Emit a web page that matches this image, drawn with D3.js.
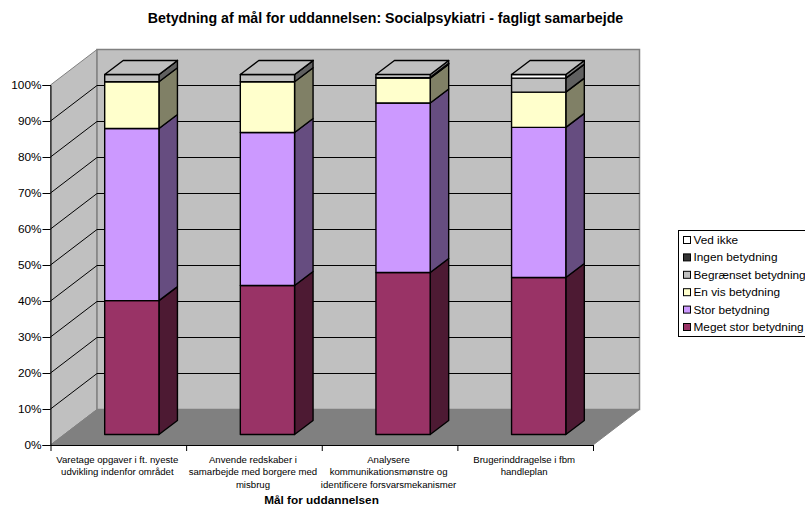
<!DOCTYPE html>
<html>
<head>
<meta charset="utf-8">
<script src="https://cdn.jsdelivr.net/npm/d3@7"></script>
<style>
  html, body { margin: 0; padding: 0; background: #fff; overflow: hidden; }
  text { font-family: "Liberation Sans", Arial, sans-serif; fill: #000; }
</style>
</head>
<body>
<div id="chart"></div>
<script>
// Chart values (percent of answers)
var categories = [
  ["Varetage opgaver i ft. nyeste", "udvikling indenfor området"],
  ["Anvende redskaber i", "samarbejde med borgere med", "misbrug"],
  ["Analysere", "kommunikationsmønstre og", "identificere forsvarsmekanismer"],
  ["Brugerinddragelse i fbm", "handleplan"]
];
var seriesNames = ["Meget stor betydning", "Stor betydning", "En vis betydning", "Begrænset betydning", "Ingen betydning", "Ved ikke"];
var seriesColors = ["#993366", "#cc99ff", "#ffffcc", "#c0c0c0", "#333333", "#ffffff"];
var megetStor = [37.2, 41.4, 45.0, 43.6];
var stor = [47.8, 42.5, 47.1, 41.7];
var enVis = [13.0, 14.1, 6.9, 9.8];
var begraenset = [2.0, 2.0, 0.2, 3.9];
var ingen = [0, 0, 0, 0];
var vedIkke = [0, 0, 0.8, 1.0];
var yTicks = [0, 10, 20, 30, 40, 50, 60, 70, 80, 90, 100];

var width = 805, height = 506;

// Front plane of the 3D box and the depth offsets
var plot = { left: 50.5, right: 593, top: 85, bottom: 445 };
var wallDepth = { x: 46.5, y: -35.5 };
var barShift = { x: 13.5, y: -10.5 };
var barDepth = { x: 18.5, y: -14 };

var svg = d3.select("#chart")
  .append("svg")
  .attr("width", width)
  .attr("height", height)
  .style("display", "block");

var y = d3.scaleLinear().domain([0, 100]).range([plot.bottom, plot.top]);
var xEdge = d3.scaleLinear().domain([0, categories.length]).range([plot.left, plot.right]);
var x = d3.scaleBand()
  .domain(d3.range(categories.length))
  .range([plot.left, plot.right])
  .paddingInner(0.6)
  .paddingOuter(0.3);

function points(list) {
  return list.map(function (p) { return p.join(","); }).join(" ");
}

// half brightness for the side faces
function shade(c) {
  var r = d3.rgb(c);
  return d3.rgb(r.r * 0.5, r.g * 0.5, r.b * 0.5).formatHex();
}

// Walls and floor
var wx = wallDepth.x, wy = wallDepth.y;
svg.append("polygon")
  .attr("points", points([[plot.left, y(100)], [plot.left + wx, y(100) + wy], [plot.left + wx, y(0) + wy], [plot.left, y(0)]]))
  .attr("fill", "#c0c0c0").attr("stroke", "#808080");
svg.append("polygon")
  .attr("points", points([[plot.left + wx, y(100) + wy], [plot.right + wx, y(100) + wy], [plot.right + wx, y(0) + wy], [plot.left + wx, y(0) + wy]]))
  .attr("fill", "#c0c0c0").attr("stroke", "#808080").attr("stroke-width", 1.5);
svg.append("polygon")
  .attr("points", points([[plot.left, y(0)], [plot.left + wx, y(0) + wy], [plot.right + wx, y(0) + wy], [plot.right, y(0)]]))
  .attr("fill", "#808080").attr("stroke", "#808080");

// Gridlines on the left and back walls
var grid = svg.append("g").attr("fill", "none").attr("stroke", "#000").attr("stroke-width", 1);
yTicks.filter(function (t) { return t > 0 && t < 100; }).forEach(function (t) {
  grid.append("polyline").attr("points", points([
    [plot.left, y(t)], [plot.left + wx, y(t) + wy], [plot.right + wx, y(t) + wy]
  ]));
});

// Stacked bars
var rows = categories.map(function (c, i) {
  return {
    i: i,
    "Meget stor betydning": megetStor[i],
    "Stor betydning": stor[i],
    "En vis betydning": enVis[i],
    "Begrænset betydning": begraenset[i],
    "Ingen betydning": ingen[i],
    "Ved ikke": vedIkke[i]
  };
});
var stacked = d3.stack().keys(seriesNames)(rows);

var bars = svg.append("g").attr("stroke", "#000").attr("stroke-width", 1.4).attr("stroke-linejoin", "round");
rows.forEach(function (row) {
  var bar = bars.append("g");
  var x0 = x(row.i) + barShift.x, x1 = x0 + x.bandwidth();
  var dx = barDepth.x, dy = barDepth.y;
  stacked.forEach(function (s, k) {
    var d = s[row.i];
    var yb = y(d[0]) + barShift.y, yt = y(d[1]) + barShift.y;
    bar.append("polygon")
      .attr("points", points([[x1, yb], [x1 + dx, yb + dy], [x1 + dx, yt + dy], [x1, yt]]))
      .attr("fill", shade(seriesColors[k]));
    bar.append("rect")
      .attr("x", x0).attr("y", yt)
      .attr("width", x.bandwidth()).attr("height", yb - yt)
      .attr("fill", seriesColors[k]);
  });
  var top = y(100) + barShift.y;
  bar.append("polygon")
    .attr("points", points([[x0, top], [x0 + dx, top + dy], [x1 + dx, top + dy], [x1, top]]))
    .attr("fill", "#c0c0c0");
});

// Y axis
var yAxis = svg.append("g")
  .attr("transform", "translate(" + plot.left + ",0)")
  .call(d3.axisLeft(y).tickValues(yTicks).tickSize(8).tickPadding(1).tickFormat(function (d) { return d + "%"; }));
yAxis.select(".domain").attr("stroke", "#000");
yAxis.selectAll("text").style("font-size", "11.8px");

// X axis, ticks sit between the categories
var xAxis = svg.append("g")
  .attr("transform", "translate(0," + plot.bottom + ")")
  .call(d3.axisBottom(xEdge).tickValues(d3.range(categories.length + 1)).tickSize(6).tickSizeOuter(0).tickFormat(""));
xAxis.select(".domain").attr("stroke", "#000");

var catLabels = svg.append("g").attr("text-anchor", "middle").style("font-size", "9.6px");
categories.forEach(function (lines, i) {
  lines.forEach(function (line, n) {
    catLabels.append("text")
      .attr("x", xEdge(i + 0.5) - 1)
      .attr("y", 463 + n * 12.4)
      .text(line);
  });
});

// Titles
svg.append("text")
  .attr("x", 385.5).attr("y", 23)
  .attr("text-anchor", "middle")
  .style("font-size", "14.2px").style("font-weight", "bold")
  .text("Betydning af mål for uddannelsen: Socialpsykiatri - fagligt samarbejde");
svg.append("text")
  .attr("x", 321.5).attr("y", 504)
  .attr("text-anchor", "middle")
  .style("font-size", "11.8px").style("font-weight", "bold")
  .text("Mål for uddannelsen");

// Legend, top entry is the last series
var legend = svg.append("g");
legend.append("rect")
  .attr("x", 678.5).attr("y", 230.5)
  .attr("width", 130).attr("height", 106)
  .attr("fill", "#fff").attr("stroke", "#000");
seriesNames.slice().reverse().forEach(function (name, i) {
  var color = seriesColors[seriesColors.length - 1 - i];
  var cy = 240 + i * 17.4;
  legend.append("rect")
    .attr("x", 683.5).attr("y", cy - 3.5)
    .attr("width", 7).attr("height", 7)
    .attr("fill", color).attr("stroke", "#000");
  legend.append("text")
    .attr("x", 693.5).attr("y", cy + 4)
    .style("font-size", "11.8px")
    .text(name);
});
</script>
</body>
</html>
